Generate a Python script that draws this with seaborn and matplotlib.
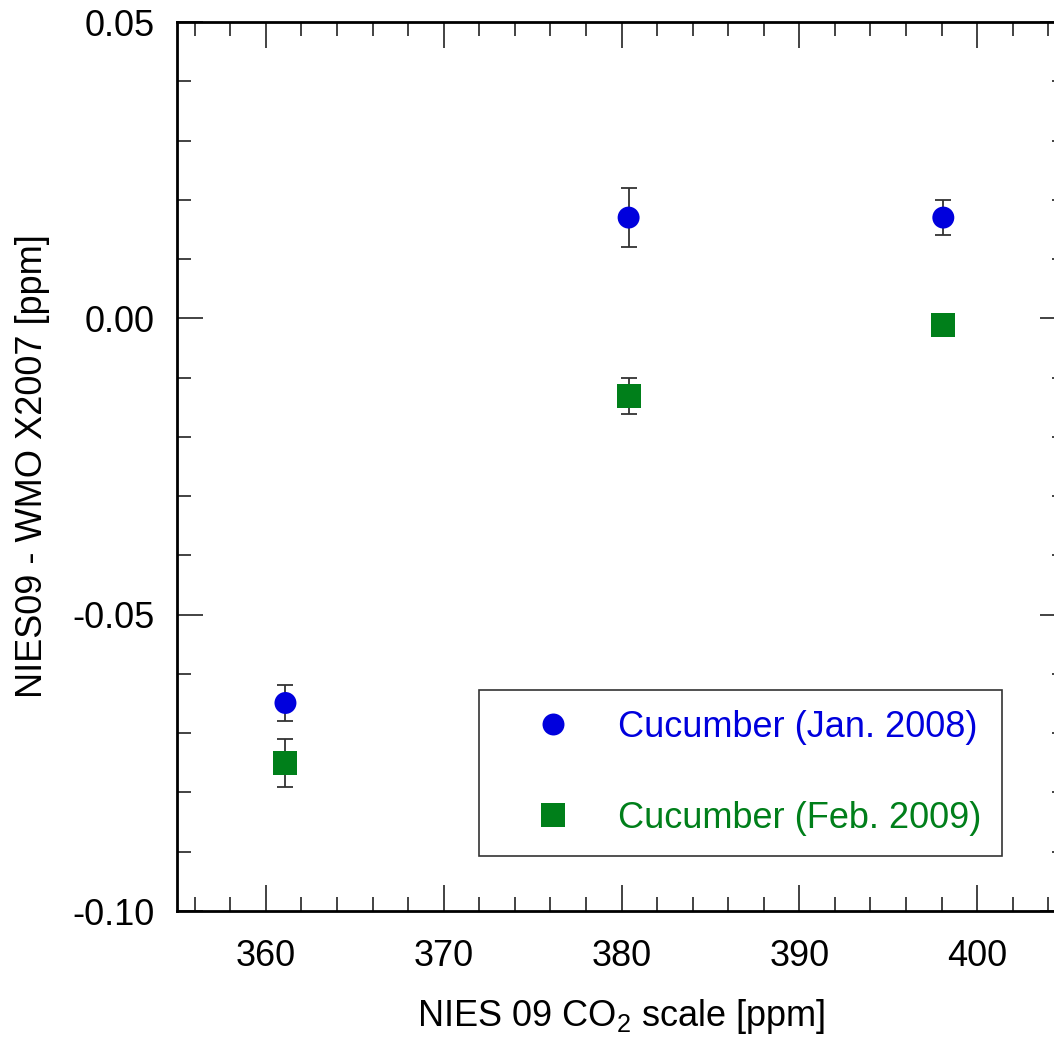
import seaborn as sns
import pandas as pd
import numpy as np
import matplotlib.pyplot as plt
from matplotlib.ticker import MultipleLocator

# datos
co2_scale = [361.1, 380.4, 398.1]
diff_jan2008 = [-0.0649, 0.0170, 0.0170]
err_jan2008 = [0.003, 0.005, 0.003]
diff_feb2009 = [-0.0750, -0.0131, -0.0011]
err_feb2009 = [0.004, 0.003, 0.001]
series_names = ["Cucumber (Jan. 2008)", "Cucumber (Feb. 2009)"]
series_colors = ["#0000dd", "#007f1a"]

sns.set_style("ticks")
plt.rcParams['font.family'] = ['Liberation Sans', 'DejaVu Sans']
plt.rcParams['mathtext.default'] = 'regular'

df = pd.concat((
    pd.DataFrame({"x": co2_scale, "y": diff_jan2008, "err": err_jan2008, "serie": series_names[0]}),
    pd.DataFrame({"x": co2_scale, "y": diff_feb2009, "err": err_feb2009, "serie": series_names[1]}),
), ignore_index=True)

fig = plt.figure(figsize=(10.54, 10.40), dpi=100)
ax = fig.add_axes([177/1054, 1 - 911/1040, 889/1054, 889/1040])

# barras de error primero, debajo de los marcadores
for name in series_names:
    d = df[df["serie"] == name]
    ax.errorbar(d["x"], d["y"], yerr=d["err"], fmt="none", ecolor="#333333",
                elinewidth=1.3, capsize=6, capthick=1.3, zorder=2)

sns.scatterplot(data=df, x="x", y="y", hue="serie", style="serie", size="serie",
                palette=dict(zip(series_names, series_colors)),
                markers=dict(zip(series_names, ["o", "s"])),
                sizes=dict(zip(series_names, [250, 300])),
                edgecolor="none", linewidth=0, ax=ax, zorder=3)

ax.set_xlim(355, 405)
ax.set_ylim(-0.10, 0.05)
ax.xaxis.set_major_locator(MultipleLocator(10))
ax.xaxis.set_minor_locator(MultipleLocator(2))
ax.yaxis.set_major_locator(MultipleLocator(0.05))
ax.yaxis.set_minor_locator(MultipleLocator(0.01))
ax.yaxis.set_major_formatter(lambda v, p: f"{v:.2f}")
ax.tick_params(which="both", direction="in", top=True, right=True, width=1.2, colors="#222222")
ax.tick_params(which="major", length=19, labelsize=26, labelcolor="black")
ax.tick_params(which="minor", length=10)
ax.tick_params(axis="x", which="major", pad=20)
ax.tick_params(axis="y", which="major", pad=16)
for s in ax.spines.values():
    s.set_linewidth(2)
    s.set_color("black")

ax.set_xlabel("NIES 09 CO$_2$ scale [ppm]", fontsize=26, labelpad=17, color="black")
ax.set_ylabel("NIES09 - WMO X2007 [ppm]", fontsize=26, labelpad=16, color="black")

leg = ax.legend(loc="lower left", bbox_to_anchor=(0.34, 0.062, 0.588, 0.185), mode="expand",
                borderaxespad=0, fontsize=26, frameon=True, fancybox=False, edgecolor="black",
                labelspacing=1.55, borderpad=0.55, handlelength=3.0, handletextpad=0.3,
                markerscale=1.0)
leg.get_frame().set_linewidth(1.2)
for txt, c in zip(leg.get_texts(), series_colors):
    txt.set_color(c)

fig.savefig("out.png", dpi=100)
